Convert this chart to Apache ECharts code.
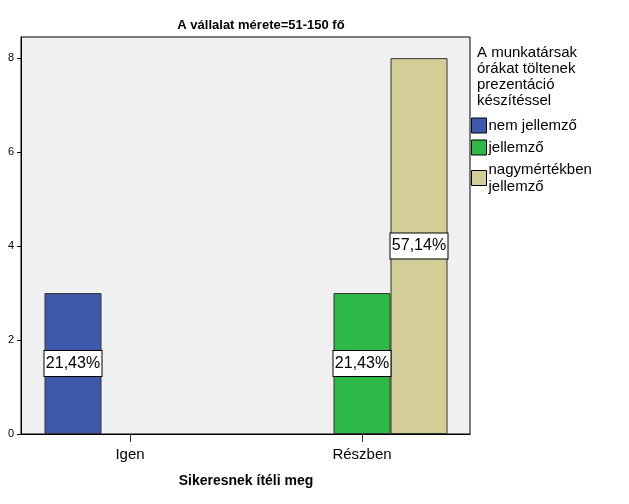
<!DOCTYPE html>
<html>
<head>
<meta charset="utf-8">
<script src="https://cdn.jsdelivr.net/npm/echarts@6/dist/echarts.min.js"></script>
<style>html,body{margin:0;padding:0;background:#fff}#c{width:629px;height:504px}</style>
</head>
<body>
<div id="c"></div>
<script>
const categories = ['Igen', 'Részben'];
const seriesNames = ['nem jellemző', 'jellemző', 'nagymértékben jellemző'];
const nemJellemzo = [3, 0];
const jellemzo = [0, 3];
const nagymertekben = [0, 8];
const yTicks = [0, 2, 4, 6, 8];
const colors = ['#3e58ac', '#2eb848', '#d3ce97'];

const allSeries = [nemJellemzo, jellemzo, nagymertekben];
const total = allSeries.reduce((s, a) => s + a.reduce((x, y) => x + y, 0), 0);
const FONT = 'Arial, "Liberation Sans", sans-serif';

const chart = echarts.init(document.getElementById('c'), null, {renderer: 'canvas'});
const yMax = 8.45;

chart.setOption({
  animation: false,
  backgroundColor: '#fff',
  textStyle: {fontFamily: FONT, color: '#000'},
  grid: [
    {left: 21, width: 449, top: 37, height: 397, show: true, backgroundColor: '#f0f0f0', borderColor: '#000', borderWidth: 1},
    {left: 14, width: 464, top: 37, height: 397}
  ],
  xAxis: [
    {gridIndex: 0, type: 'value', min: 0, max: 1, axisLabel: {show: false}, axisTick: {show: false}, splitLine: {show: false},
     axisLine: {show: true, lineStyle: {color: '#000', width: 1}}},
    {gridIndex: 1, type: 'category', data: categories,
     axisLine: {show: false},
     axisTick: {show: true, alignWithLabel: true, length: 8, lineStyle: {color: '#333'}},
     axisLabel: {fontSize: 15, color: '#000', margin: 13, fontFamily: FONT},
     name: 'Sikeresnek ítéli meg', nameLocation: 'middle', nameGap: 40,
     nameTextStyle: {fontSize: 14, fontWeight: 'bold', color: '#000', fontFamily: FONT}}
  ],
  yAxis: [
    {gridIndex: 0, type: 'value', min: 0, max: yMax,
     axisLine: {show: true, lineStyle: {color: '#000'}},
     axisTick: {show: true, length: 4, customValues: yTicks, lineStyle: {color: '#000'}},
     axisLabel: {fontSize: 11, color: '#000', margin: 7, customValues: yTicks, fontFamily: FONT},
     splitLine: {show: false}},
    {gridIndex: 1, type: 'value', min: 0, max: yMax, show: false, splitLine: {show: false}}
  ],
  legend: {
    orient: 'vertical', left: 471, top: 117, padding: 0, itemGap: 5,
    itemWidth: 15, itemHeight: 15, icon: 'rect',
    itemStyle: {borderColor: '#000', borderWidth: 1},
    data: seriesNames,
    formatter: n => n === 'nagymértékben jellemző' ? 'nagymértékben\njellemző' : n,
    textStyle: {fontSize: 15, lineHeight: 17, color: '#000', fontFamily: FONT, padding: [0, 0, 0, -3]}
  },
  graphic: [
    {type: 'text', style: {x: 261, y: 25, text: 'A vállalat mérete=51-150 fő', align: 'center', verticalAlign: 'middle',
      font: 'bold 13px ' + FONT, fill: '#000'}},
    {type: 'text', style: {x: 477, y: 45, text: 'A munkatársak\nórákat töltenek\nprezentáció\nkészítéssel', lineHeight: 16,
      font: '15px ' + FONT, fill: '#000'}}
  ],
  series: seriesNames.map((name, i) => ({
    name: name, type: 'bar', xAxisIndex: 1, yAxisIndex: 1,
    data: allSeries[i].map(v => v === 0 ? '-' : v),
    barWidth: 57, barGap: '0%',
    itemStyle: {color: colors[i], borderColor: '#333', borderWidth: 1},
    label: {
      show: true, position: 'inside',
      formatter: p => (p.value / total * 100).toFixed(2).replace('.', ',') + '%',
      backgroundColor: '#fff', borderColor: '#000', borderWidth: 1,
      padding: [5, 3, 2, 3], width: 51, align: 'center',
      fontSize: 16, lineHeight: 18, color: '#000', fontFamily: FONT
    }
  }))
});
</script>
</body>
</html>
